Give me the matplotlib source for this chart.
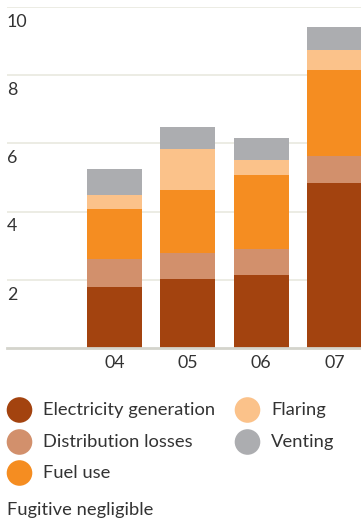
import numpy as np
import matplotlib
matplotlib.use("Agg")
import matplotlib.pyplot as plt
from matplotlib.patches import Circle

plt.rcParams['font.family'] = ['Lato', 'DejaVu Sans']

years = ["04", "05", "06", "07"]
electricity = [1.79, 2.03, 2.15, 4.85]
distribution = [0.81, 0.76, 0.76, 0.77]
fuel_use = [1.49, 1.83, 2.15, 2.53]
flaring = [0.41, 1.23, 0.44, 0.59]
venting = [0.74, 0.62, 0.65, 0.67]

series = [
    ("Electricity generation", electricity, "#A3430F"),
    ("Distribution losses", distribution, "#D2906C"),
    ("Fuel use", fuel_use, "#F58D21"),
    ("Flaring", flaring, "#FBC28A"),
    ("Venting", venting, "#ACADB0"),
]
yticks = [2, 4, 6, 8, 10]
note = "Fugitive negligible"

TXT = "#333333"
W, H = 361, 523
fig = plt.figure(figsize=(W / 100, H / 100), dpi=100)

ax = fig.add_axes([7 / W, 1 - 348 / H, 1 - 7 / W, (348 - 7) / H])
x = np.arange(len(years))
bottom = np.zeros(len(years))
for name, vals, col in series:
    ax.bar(x, vals, width=0.75, bottom=bottom, color=col, zorder=2)
    bottom += np.array(vals)

ax.set_xlim(-1.467, 3.363)
ax.set_ylim(0, 10)
for v in yticks:
    ax.axhline(v, color="#E9E9DF", lw=1.2, zorder=1)
    ax.text(0, v - 0.2, str(v), transform=ax.get_yaxis_transform(),
            ha="left", va="top", fontsize=12.8, color=TXT)
ax.axhline(0, color="#D4D4CC", lw=2, zorder=3, clip_on=False)
for i, lab in enumerate(years):
    ax.text(i, -0.2, lab, ha="center", va="top", fontsize=12.8, color=TXT)
ax.axis("off")

# legend drawn in pixel units on a full-figure overlay
lax = fig.add_axes([0, 0, 1, 1])
lax.set_xlim(0, W)
lax.set_ylim(H, 0)
lax.axis("off")
spots = [(19.5, 410), (19.5, 442), (19.5, 473), (247.5, 410), (247.5, 442)]
for (cx, cy), (name, _, col) in zip(spots, series):
    lax.add_patch(Circle((cx, cy), 12.8, color=col, lw=0))
    lax.text(cx + 23.5, cy, name, ha="left", va="center", fontsize=13.2, color=TXT)
lax.text(7, 510, note, ha="left", va="center", fontsize=13.2, color=TXT)

fig.savefig("out.png", dpi=100)
